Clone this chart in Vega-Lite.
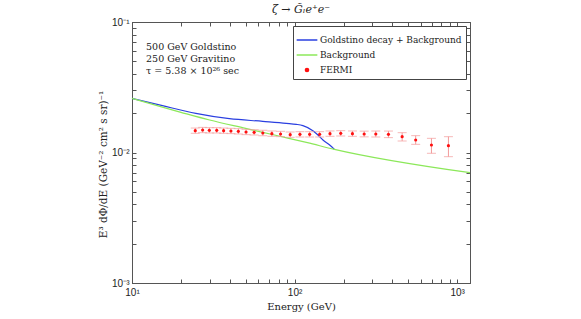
{
  "$schema": "https://vega.github.io/schema/vega-lite/v6.json",
  "width": 338,
  "height": 261,
  "autosize": {"type": "none"},
  "padding": {"left": 132, "top": 22, "right": 111, "bottom": 36},
  "background": "white",
  "title": {"text": "ζ → G̃ₗe⁺e⁻", "font": "DejaVu Serif", "fontSize": 11, "fontWeight": "normal", "fontStyle": "italic", "color": "#222", "offset": 2},
  "config": {
    "view": {"stroke": "#555", "strokeWidth": 1},
    "axis": {"grid": false, "domainColor": "#555", "tickColor": "#555", "labelFont": "Liberation Sans", "labelFontSize": 10, "labelColor": "#222", "titleFont": "DejaVu Serif", "titleFontSize": 10, "titleFontWeight": "normal", "titleColor": "#222"}
  },
  "datasets": {
    "curves": [
      {"E": 10, "flux": 0.0260, "series": "Goldstino decay + Background"},
      {"E": 15.4, "flux": 0.02286, "series": "Goldstino decay + Background"},
      {"E": 24.7, "flux": 0.01995, "series": "Goldstino decay + Background"},
      {"E": 39.7, "flux": 0.01815, "series": "Goldstino decay + Background"},
      {"E": 63.7, "flux": 0.01733, "series": "Goldstino decay + Background"},
      {"E": 88.9, "flux": 0.01674, "series": "Goldstino decay + Background"},
      {"E": 102.4, "flux": 0.01644, "series": "Goldstino decay + Background"},
      {"E": 112.5, "flux": 0.01606, "series": "Goldstino decay + Background"},
      {"E": 129.6, "flux": 0.01470, "series": "Goldstino decay + Background"},
      {"E": 139.3, "flux": 0.01361, "series": "Goldstino decay + Background"},
      {"E": 149.5, "flux": 0.01247, "series": "Goldstino decay + Background"},
      {"E": 164.4, "flux": 0.01141, "series": "Goldstino decay + Background"},
      {"E": 176, "flux": 0.01057, "series": "Goldstino decay + Background"},
      {"E": 10, "flux": 0.0260, "series": "Background"},
      {"E": 15, "flux": 0.02244, "series": "Background"},
      {"E": 20, "flux": 0.02032, "series": "Background"},
      {"E": 30, "flux": 0.01774, "series": "Background"},
      {"E": 50, "flux": 0.01531, "series": "Background"},
      {"E": 80, "flux": 0.01337, "series": "Background"},
      {"E": 120, "flux": 0.01189, "series": "Background"},
      {"E": 176, "flux": 0.01057, "series": "Background"},
      {"E": 1200, "flux": 0.0070, "series": "Background"}
    ],
    "fermi": [
      {"E": 24.5, "flux": 0.01470, "lo": 0.01403, "hi": 0.01540, "series": "FERMI"},
      {"E": 27.2, "flux": 0.01487, "lo": 0.01419, "hi": 0.01558, "series": "FERMI"},
      {"E": 29.9, "flux": 0.01479, "lo": 0.01411, "hi": 0.01550, "series": "FERMI"},
      {"E": 33.2, "flux": 0.01479, "lo": 0.01411, "hi": 0.01550, "series": "FERMI"},
      {"E": 36.6, "flux": 0.01470, "lo": 0.01403, "hi": 0.01540, "series": "FERMI"},
      {"E": 40.6, "flux": 0.01462, "lo": 0.01395, "hi": 0.01532, "series": "FERMI"},
      {"E": 45.1, "flux": 0.01453, "lo": 0.01386, "hi": 0.01523, "series": "FERMI"},
      {"E": 50.3, "flux": 0.01436, "lo": 0.01370, "hi": 0.01505, "series": "FERMI"},
      {"E": 56.4, "flux": 0.01428, "lo": 0.01362, "hi": 0.01496, "series": "FERMI"},
      {"E": 63.8, "flux": 0.01411, "lo": 0.01346, "hi": 0.01479, "series": "FERMI"},
      {"E": 72.5, "flux": 0.01395, "lo": 0.01331, "hi": 0.01462, "series": "FERMI"},
      {"E": 82.0, "flux": 0.01386, "lo": 0.01323, "hi": 0.01453, "series": "FERMI"},
      {"E": 94.0, "flux": 0.01370, "lo": 0.01307, "hi": 0.01436, "series": "FERMI"},
      {"E": 107.9, "flux": 0.01378, "lo": 0.01315, "hi": 0.01444, "series": "FERMI"},
      {"E": 123.8, "flux": 0.01378, "lo": 0.01315, "hi": 0.01444, "series": "FERMI"},
      {"E": 142.6, "flux": 0.01378, "lo": 0.01315, "hi": 0.01444, "series": "FERMI"},
      {"E": 165.2, "flux": 0.01395, "lo": 0.01331, "hi": 0.01462, "series": "FERMI"},
      {"E": 192.3, "flux": 0.01403, "lo": 0.01338, "hi": 0.01470, "series": "FERMI"},
      {"E": 227, "flux": 0.01395, "lo": 0.01331, "hi": 0.01462, "series": "FERMI"},
      {"E": 268, "flux": 0.01386, "lo": 0.01318, "hi": 0.01458, "series": "FERMI"},
      {"E": 316, "flux": 0.01386, "lo": 0.01315, "hi": 0.01461, "series": "FERMI"},
      {"E": 378, "flux": 0.01378, "lo": 0.01300, "hi": 0.01460, "series": "FERMI"},
      {"E": 459, "flux": 0.01322, "lo": 0.01225, "hi": 0.01419, "series": "FERMI"},
      {"E": 556, "flux": 0.01247, "lo": 0.01155, "hi": 0.01346, "series": "FERMI"},
      {"E": 695, "flux": 0.01141, "lo": 0.00986, "hi": 0.01284, "series": "FERMI"},
      {"E": 884, "flux": 0.01128, "lo": 0.00929, "hi": 0.01322, "series": "FERMI"}
    ],
    "notes": [
      {"E": 12.2, "flux": 0.0643, "text": "500 GeV Goldstino"},
      {"E": 12.2, "flux": 0.0520, "text": "250 GeV Gravitino"},
      {"E": 12.2, "flux": 0.0421, "text": "τ = 5.38 × 10²⁶ sec"}
    ]
  },
  "resolve": {"axis": {"x": "independent", "y": "independent"}},
  "layer": [
    {
      "data": {"name": "curves"},
      "transform": [{"filter": "datum.series === 'Goldstino decay + Background'"}],
      "mark": {"type": "line", "strokeWidth": 1.2, "interpolate": "monotone"},
      "encoding": {
        "x": {"field": "E", "type": "quantitative", "scale": {"type": "log", "domain": [10, 1200], "nice": false},
          "axis": {"orient": "bottom", "title": "Energy (GeV)", "titlePadding": 4, "values": [10,20,30,40,50,60,70,80,90,100,200,300,400,500,600,700,800,900,1000], "tickSize": -4, "labelPadding": 8, "labelFlush": false, "labelOverlap": false,
            "labelExpr": "datum.value == 10 ? '10¹' : datum.value == 100 ? '10²' : datum.value == 1000 ? '10³' : ''"}},
        "y": {"field": "flux", "type": "quantitative", "scale": {"type": "log", "domain": [0.001, 0.1], "nice": false},
          "axis": {"orient": "left", "title": "E³ dΦ/dE (GeV⁻² cm² s sr)⁻¹", "titleFontSize": 10.5, "titlePadding": 3, "titleY": 142, "values": [0.001,0.002,0.003,0.004,0.005,0.006,0.007,0.008,0.009,0.01,0.02,0.03,0.04,0.05,0.06,0.07,0.08,0.09,0.1], "tickSize": -4, "labelPadding": 7, "labelFlush": false, "labelOverlap": false,
            "labelExpr": "datum.value == 0.1 ? '10⁻¹' : datum.value == 0.01 ? '10⁻²' : datum.value == 0.001 ? '10⁻³' : ''"}},
        "color": {"field": "series", "type": "nominal",
          "scale": {"domain": ["Goldstino decay + Background", "Background", "FERMI"], "range": ["#2a3fe0", "#8ce85a", "#ff1010"]},
          "legend": {"title": null, "orient": "top-right", "offset": 4, "padding": 4, "strokeColor": "#444", "fillColor": "white",
            "labelFont": "DejaVu Serif", "labelFontSize": 9, "labelColor": "#222", "symbolSize": 324, "rowPadding": -5, "labelOffset": 3,
            "encode": {"symbols": {"update": {
              "shape": {"signal": "datum.value === 'FERMI' ? 'circle' : 'M-1.15,0H1.15'"},
              "size": {"signal": "datum.value === 'FERMI' ? 10 : 324"},
              "strokeWidth": {"value": 1.5},
              "stroke": {"signal": "datum.value === 'FERMI' ? '#ff1010' : datum.value === 'Background' ? '#8ce85a' : '#2a3fe0'"},
              "fill": {"signal": "datum.value === 'FERMI' ? '#ff1010' : 'transparent'"}
            }}}}}
      }
    },
    {
      "data": {"name": "curves"},
      "transform": [{"filter": "datum.series === 'Background'"}],
      "mark": {"type": "line", "strokeWidth": 1.2, "interpolate": "monotone"},
      "encoding": {
        "x": {"field": "E", "type": "quantitative", "axis": {"orient": "top", "title": null, "values": [10,20,30,40,50,60,70,80,90,100,200,300,400,500,600,700,800,900,1000], "tickSize": -4, "labels": false}},
        "y": {"field": "flux", "type": "quantitative", "axis": {"orient": "right", "title": null, "values": [0.001,0.002,0.003,0.004,0.005,0.006,0.007,0.008,0.009,0.01,0.02,0.03,0.04,0.05,0.06,0.07,0.08,0.09,0.1], "tickSize": -4, "labels": false}},
        "color": {"field": "series", "type": "nominal"}
      }
    },
    {
      "data": {"name": "fermi"},
      "mark": {"type": "rule", "color": "#f29a9a", "strokeWidth": 1},
      "encoding": {
        "x": {"field": "E", "type": "quantitative", "axis": null},
        "y": {"field": "lo", "type": "quantitative", "axis": null},
        "y2": {"field": "hi"}
      }
    },
    {
      "data": {"name": "fermi"},
      "mark": {"type": "tick", "orient": "horizontal", "color": "#f29a9a", "size": 9, "thickness": 1},
      "encoding": {
        "x": {"field": "E", "type": "quantitative", "axis": null},
        "y": {"field": "lo", "type": "quantitative", "axis": null}
      }
    },
    {
      "data": {"name": "fermi"},
      "mark": {"type": "tick", "orient": "horizontal", "color": "#f29a9a", "size": 9, "thickness": 1},
      "encoding": {
        "x": {"field": "E", "type": "quantitative", "axis": null},
        "y": {"field": "hi", "type": "quantitative", "axis": null}
      }
    },
    {
      "data": {"name": "fermi"},
      "mark": {"type": "point", "filled": true, "size": 10, "opacity": 1},
      "encoding": {
        "x": {"field": "E", "type": "quantitative", "axis": null},
        "y": {"field": "flux", "type": "quantitative", "axis": null},
        "color": {"field": "series", "type": "nominal"}
      }
    },
    {
      "data": {"name": "notes"},
      "mark": {"type": "text", "align": "left", "baseline": "middle", "font": "DejaVu Serif", "fontSize": 9.5, "color": "#222"},
      "encoding": {
        "x": {"field": "E", "type": "quantitative", "axis": null},
        "y": {"field": "flux", "type": "quantitative", "axis": null},
        "text": {"field": "text"}
      }
    }
  ]
}
